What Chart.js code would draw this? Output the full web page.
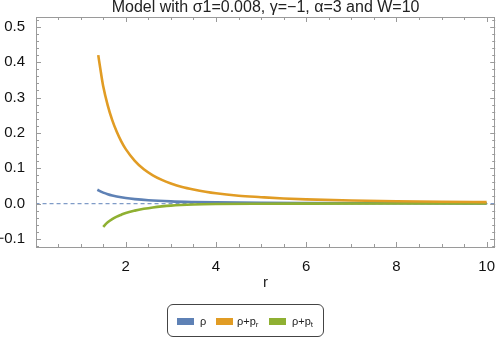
<!DOCTYPE html>
<html>
<head>
<meta charset="utf-8">
<script src="https://cdn.jsdelivr.net/npm/chart.js@4"></script>
<style>
  html, body { margin: 0; padding: 0; background: #fff; }
  #wrap { position: relative; width: 498px; height: 340px; }
  #c { position: absolute; left: 0; top: 0; }
  #legend {
    position: absolute; left: 167px; top: 304px; width: 157px; height: 33px;
    border: 1px solid #444; border-radius: 6px; box-sizing: border-box;
    font-family: "Liberation Sans", Arial, sans-serif; font-size: 11px; color: #222;
  }
  .sw { position: absolute; top: 13px; width: 17px; height: 7px; }
  .lt { position: absolute; top: 9px; line-height: 14px; white-space: nowrap; }
  .lt sub { font-size: 8px; vertical-align: -2px; line-height: 0; }
</style>
</head>
<body>
<div id="wrap">
  <canvas id="c" width="498" height="340"></canvas>
  <div id="legend">
    <div class="sw" style="left:9px;background:#5E81B5"></div>
    <div class="lt" style="left:32px">ρ</div>
    <div class="sw" style="left:48px;background:#E19C24"></div>
    <div class="lt" style="left:69px">ρ+p<sub>r</sub></div>
    <div class="sw" style="left:101px;background:#8FB032"></div>
    <div class="lt" style="left:124px">ρ+p<sub>t</sub></div>
  </div>
</div>
<script>
// ---- data ----
const rhoR   = [1.37, 1.45, 1.5, 1.6, 1.7, 1.8, 2.0, 2.2, 2.5, 3.0, 3.5, 4.0, 5.0, 6.0, 8.0, 10.0];
const rhoV   = [0.039, 0.0338, 0.031, 0.0264, 0.0228, 0.0199, 0.0155, 0.0124, 0.0092, 0.0061, 0.0044, 0.0033, 0.0020, 0.0014, 0.0008, 0.0005];

const prR    = [1.39, 1.45, 1.5, 1.6, 1.7, 1.8, 1.9, 2.0, 2.2, 2.4, 2.6, 2.8, 3.0, 3.25, 3.5, 4.0, 4.5, 5.0, 5.5, 6.0, 7.0, 8.0, 9.0, 10.0];
const prV    = [0.420, 0.370, 0.332, 0.278, 0.236, 0.203, 0.176, 0.154, 0.121, 0.097, 0.080, 0.067, 0.057, 0.047, 0.040, 0.029, 0.022, 0.018, 0.0144, 0.0119, 0.0086, 0.0064, 0.0050, 0.0040];

const ptR    = [1.5, 1.55, 1.6, 1.7, 1.8, 1.9, 2.0, 2.2, 2.4, 2.6, 2.8, 3.0, 3.5, 4.0, 5.0, 6.0, 8.0, 10.0];
const ptV    = [-0.066, -0.059, -0.053, -0.044, -0.037, -0.0315, -0.0265, -0.020, -0.015, -0.011, -0.008, -0.0058, -0.0028, -0.0014, -0.0005, -0.0002, -0.00005, 0.0];

const zeroR  = [0.0, 10.2];
const zeroV  = [0.0, 0.0];

const xTickLabels = [2, 4, 6, 8, 10];
const yTickLabels = [-0.1, 0.0, 0.1, 0.2, 0.3, 0.4, 0.5];

const titleText = "Model with σ1=0.008, γ=−1, α=3 and W=10";
const xTitle = "r";

const toPts = (xs, ys) => xs.map((x, i) => ({ x: x, y: ys[i] }));

const FONT = '"Liberation Sans", Arial, sans-serif';

const framePlugin = {
  id: 'frame',
  afterDraw(chart) {
    const ctx = chart.ctx;
    const a = chart.chartArea;
    const xs = chart.scales.x, ys = chart.scales.y;
    ctx.save();
    ctx.strokeStyle = '#9a9a9a';
    ctx.lineWidth = 1;
    ctx.strokeRect(Math.round(a.left) + 0.5, Math.round(a.top) + 0.5,
                   Math.round(a.right - a.left) - 1, Math.round(a.bottom - a.top));
    ctx.beginPath();
    for (let k = 1; k <= 20; k++) {
      const v = k * 0.5;
      const px = Math.round(xs.getPixelForValue(v)) + 0.5;
      if (px < a.left || px > a.right) continue;
      const len = (k % 4 === 0) ? 5 : 3;
      ctx.moveTo(px, a.bottom); ctx.lineTo(px, a.bottom - len);
      ctx.moveTo(px, a.top); ctx.lineTo(px, a.top + len);
    }
    for (let k = -6; k <= 26; k++) {
      const v = k * 0.02;
      const py = Math.round(ys.getPixelForValue(v)) + 0.5;
      if (py < a.top || py > a.bottom) continue;
      const len = (k % 5 === 0) ? 5 : 3;
      ctx.moveTo(a.left, py); ctx.lineTo(a.left + len, py);
      ctx.moveTo(a.right, py); ctx.lineTo(a.right - len, py);
    }
    ctx.stroke();
    ctx.fillStyle = '#222';
    ctx.font = '16px ' + FONT;
    ctx.textAlign = 'center';
    ctx.textBaseline = 'middle';
    ctx.fillText(titleText, (a.left + a.right) / 2, 8);
    ctx.font = '15px ' + FONT;
    ctx.fillText(xTitle, (a.left + a.right) / 2, 283);
    ctx.restore();
  }
};

new Chart(document.getElementById('c'), {
  type: 'line',
  data: {
    datasets: [
      { label: 'zero', data: toPts(zeroR, zeroV), borderColor: '#7f9bc7', borderWidth: 1.2,
        borderDash: [4, 3], pointRadius: 0, order: 4 },
      { label: 'ρ', data: toPts(rhoR, rhoV), borderColor: '#5E81B5', borderWidth: 2.6,
        pointRadius: 0, cubicInterpolationMode: 'monotone', order: 3 },
      { label: 'ρ+pr', data: toPts(prR, prV), borderColor: '#E19C24', borderWidth: 2.6,
        pointRadius: 0, cubicInterpolationMode: 'monotone', order: 1 },
      { label: 'ρ+pt', data: toPts(ptR, ptV), borderColor: '#8FB032', borderWidth: 2.6,
        pointRadius: 0, cubicInterpolationMode: 'monotone', order: 2 }
    ]
  },
  options: {
    responsive: false,
    animation: false,
    events: [],
    layout: { padding: { top: 17, right: 1, left: 0, bottom: 0 } },
    plugins: { legend: { display: false }, title: { display: false }, tooltip: { enabled: false } },
    scales: {
      x: {
        type: 'linear', min: 0.01, max: 10.19,
        grid: { display: false }, border: { display: false },
        afterBuildTicks: s => { s.ticks = xTickLabels.map(v => ({ value: v })); },
        afterFit: s => { s.height = 93; },
        ticks: { color: '#111', font: { family: FONT, size: 15 }, padding: 3, maxRotation: 0,
                 callback: v => String(v) }
      },
      y: {
        type: 'linear', min: -0.123, max: 0.528,
        grid: { display: false }, border: { display: false },
        afterBuildTicks: s => { s.ticks = yTickLabels.map(v => ({ value: v })); },
        afterFit: s => { s.width = 36; },
        ticks: { color: '#111', font: { family: FONT, size: 15 }, padding: 3,
                 callback: v => (v < 0 ? '−' + Math.abs(v).toFixed(1) : v.toFixed(1)) }
      }
    }
  },
  plugins: [framePlugin]
});
</script>
</body>
</html>
